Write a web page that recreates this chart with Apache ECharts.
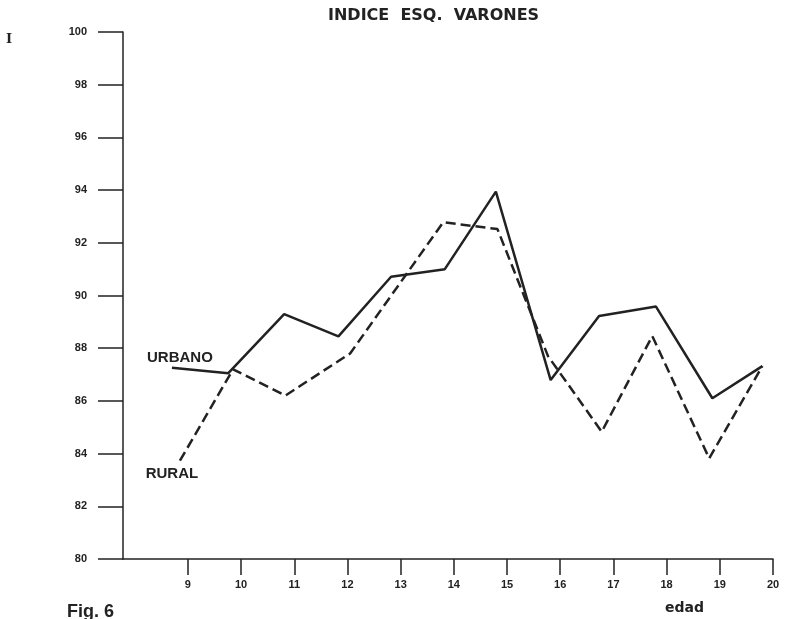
<!DOCTYPE html>
<html>
<head>
<meta charset="utf-8">
<script src="https://cdn.jsdelivr.net/npm/echarts@6/dist/echarts.min.js"></script>
<style>html,body{margin:0;padding:0;background:#fff;}#c{width:786px;height:619px;}</style>
</head>
<body>
<div id="c"></div>
<script>
const titleText = 'INDICE  ESQ.  VARONES';
const xTickValues = [9, 10, 11, 12, 13, 14, 15, 16, 17, 18, 19, 20];
const yMin = 80, yMax = 100, yStep = 2;
const urbanoX = [8.70, 9.76, 10.81, 11.83, 12.82, 13.83, 14.79, 15.82, 16.73, 17.80, 18.86, 19.80];
const urbanoY = [87.26, 87.05, 89.29, 88.45, 90.71, 91.00, 93.94, 86.79, 89.22, 89.58, 86.10, 87.32];
const ruralX = [8.85, 9.85, 10.83, 12.05, 13.80, 14.82, 15.77, 16.78, 17.73, 18.80, 19.80];
const ruralY = [83.73, 87.20, 86.20, 87.80, 92.78, 92.52, 87.70, 84.83, 88.46, 83.82, 87.32];

const ink = '#222';
const lblFont = { color: ink, fontFamily: 'Liberation Sans', fontWeight: 'bold', fontSize: 11 };
const seriesLblFont = { color: ink, fontFamily: 'Liberation Sans', fontWeight: 'bold', fontSize: 15 };

function pairs(xs, ys) { return xs.map((x, i) => [x, ys[i]]); }
const urbanoData = pairs(urbanoX, urbanoY);
const ruralData = pairs(ruralX, ruralY);
urbanoData[0] = { value: urbanoData[0], label: { show: true, formatter: 'URBANO', position: 'top', distance: 2, offset: [8, 0], ...seriesLblFont } };
ruralData[0] = { value: ruralData[0], label: { show: true, formatter: 'RURAL', position: 'bottom', distance: 6, offset: [-8, 0], ...seriesLblFont } };

const chart = echarts.init(document.getElementById('c'), null, { renderer: 'canvas' });
chart.setOption({
  animation: false,
  backgroundColor: '#fff',
  grid: { left: 123, right: 13, top: 32, bottom: 60 },
  xAxis: {
    type: 'value', min: 7.78, max: 20,
    axisLine: { show: true, lineStyle: { color: ink, width: 1.5 } },
    axisTick: { show: true, length: 16, customValues: xTickValues, lineStyle: { color: ink, width: 1.5 } },
    axisLabel: { customValues: xTickValues, margin: 20, ...lblFont },
    splitLine: { show: false }
  },
  yAxis: {
    type: 'value', min: yMin, max: yMax, interval: yStep,
    axisLine: { show: true, lineStyle: { color: ink, width: 1.5 } },
    axisTick: { show: true, length: 25, lineStyle: { color: ink, width: 1.5 } },
    axisLabel: { margin: 36, ...lblFont },
    splitLine: { show: false }
  },
  graphic: [
    { type: 'text', left: 328, top: 8, style: { text: titleText, fill: ink, font: 'bold 16px "DejaVu Sans"' } },
    { type: 'text', left: 6, top: 33, style: { text: 'I', fill: ink, font: 'bold 13px "DejaVu Serif"' } },
    { type: 'text', left: 665, top: 601, style: { text: 'edad', fill: ink, font: 'bold 14px "DejaVu Sans"' } },
    { type: 'text', left: 67, top: 603, style: { text: 'Fig. 6', fill: ink, font: 'bold 18px "Liberation Sans"' } }
  ],
  series: [
    { name: 'URBANO', type: 'line', data: urbanoData, symbol: 'circle', symbolSize: 0, showSymbol: true, lineStyle: { color: ink, width: 2.5, type: 'solid' }, itemStyle: { color: ink }, z: 3 },
    { name: 'RURAL', type: 'line', data: ruralData, symbol: 'circle', symbolSize: 0, showSymbol: true, lineStyle: { color: ink, width: 2.5, type: [10, 5] }, itemStyle: { color: ink }, z: 2 }
  ]
});
</script>
</body>
</html>
